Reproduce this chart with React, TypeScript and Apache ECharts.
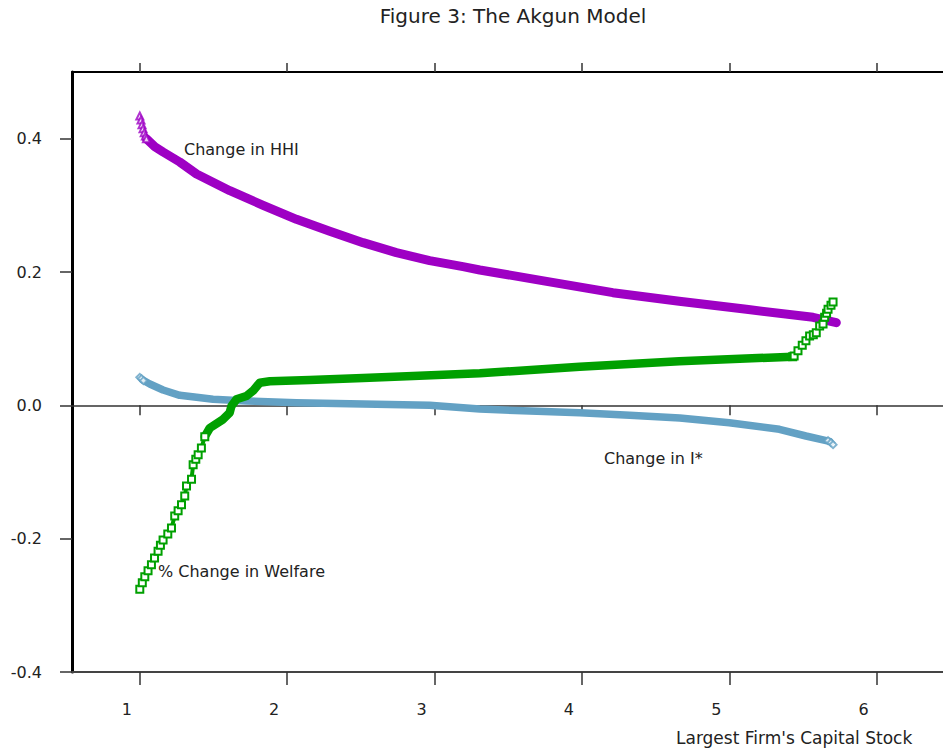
import React, { useEffect, useRef } from "react";
import * as echarts from "echarts";

// ---- texts ----
const chartTitle = "Figure 3: The Akgun Model";
const xAxisTitle = "Largest Firm's Capital Stock";
const hhiLabel = "Change in HHI";
const istarLabel = "Change in I*";
const welfareLabel = "% Change in Welfare";

// ---- axes ----
const xTicks = [1, 2, 3, 4, 5, 6];
const yTicks = [-0.4, -0.2, 0.0, 0.2, 0.4];
const xMin = 0.54;
const xMax = 6.45;
const yMin = -0.4;
const yMax = 0.5;

// ---- Change in HHI ----
const hhiMarkX = [1.0, 1.008, 1.015, 1.022, 1.03, 1.038, 1.045];
const hhiMarkY = [0.434, 0.428, 0.421, 0.415, 0.409, 0.404, 0.4];
const hhiX = [1.045, 1.102, 1.158, 1.271, 1.385, 1.611, 1.837, 2.063, 2.289, 2.515, 2.741, 2.967, 3.193, 3.307, 3.76, 4.21, 4.66, 5.116, 5.568, 5.726];
const hhiY = [0.4, 0.388, 0.38, 0.365, 0.347, 0.322, 0.3, 0.279, 0.261, 0.244, 0.229, 0.217, 0.208, 0.203, 0.186, 0.169, 0.156, 0.144, 0.132, 0.124];

// ---- Change in I* ----
const istarMarkX = [1.0, 1.012, 1.025, 5.67, 5.69, 5.704];
const istarMarkY = [0.042, 0.04, 0.037, -0.053, -0.056, -0.059];
const istarX = [1.02, 1.068, 1.158, 1.271, 1.385, 1.497, 1.724, 2.063, 2.515, 2.967, 3.307, 3.646, 3.985, 4.324, 4.664, 5.0, 5.34, 5.52, 5.68];
const istarY = [0.038, 0.032, 0.023, 0.015, 0.012, 0.009, 0.0065, 0.004, 0.002, 0.0, -0.0055, -0.0085, -0.011, -0.015, -0.019, -0.026, -0.036, -0.046, -0.054];

// ---- % Change in Welfare ----
const welfareLowX = [1.0, 1.017, 1.034, 1.056, 1.079, 1.1, 1.124, 1.14, 1.158, 1.19, 1.215, 1.237, 1.26, 1.283, 1.305, 1.317, 1.351, 1.362, 1.38, 1.396, 1.418, 1.441];
const welfareLowY = [-0.276, -0.266, -0.257, -0.248, -0.239, -0.229, -0.219, -0.21, -0.202, -0.193, -0.184, -0.166, -0.158, -0.149, -0.136, -0.121, -0.111, -0.089, -0.081, -0.074, -0.064, -0.047];
const welfareX = [1.441, 1.475, 1.565, 1.61, 1.622, 1.656, 1.724, 1.769, 1.814, 1.882, 2.153, 2.515, 2.854, 3.307, 3.985, 4.66, 5.43];
const welfareY = [-0.047, -0.034, -0.021, -0.011, -0.001, 0.009, 0.014, 0.022, 0.034, 0.036, 0.038, 0.041, 0.044, 0.048, 0.058, 0.066, 0.073];
const welfareHighX = [5.43, 5.44, 5.466, 5.495, 5.52, 5.545, 5.57, 5.59, 5.613, 5.636, 5.647, 5.66, 5.67, 5.69, 5.704];
const welfareHighY = [0.073, 0.074, 0.082, 0.09, 0.097, 0.104, 0.106, 0.109, 0.119, 0.122, 0.132, 0.138, 0.144, 0.15, 0.155];

const PURPLE = "#9e00c4";
const BLUE = "#63a1c4";
const GREEN = "#00a000";
const FONT = "'DejaVu Sans', sans-serif";

const zip = (xs: number[], ys: number[]) => xs.map((x, i) => [x, ys[i]]);

export default function App() {
  const ref = useRef<HTMLDivElement>(null);

  useEffect(() => {
    document.body.style.margin = "0";
    if (!ref.current) return;
    const chart = echarts.init(ref.current, undefined, { renderer: "svg" });

    const tickStyle = { color: "#333", width: 1.5 };

    const option: any = {
      animation: false,
      backgroundColor: "#ffffff",
      grid: { left: 72, right: 0, top: 72, bottom: 82, containLabel: false },
      xAxis: [
        {
          type: "value",
          min: xMin,
          max: xMax,
          position: "bottom",
          axisLine: { show: true, onZero: true, lineStyle: { color: "#333", width: 1.5 } },
          axisTick: { show: true, customValues: xTicks, length: 10, lineStyle: tickStyle },
          axisLabel: { show: false },
          splitLine: { show: false },
        },
        {
          type: "value",
          min: xMin,
          max: xMax,
          position: "bottom",
          axisLine: { show: true, onZero: false, lineStyle: { color: "#444", width: 2 } },
          axisTick: { show: true, customValues: xTicks, length: 13, lineStyle: tickStyle },
          axisLabel: {
            show: true,
            customValues: xTicks,
            margin: 29,
            fontSize: 16,
            fontFamily: FONT,
            color: "#222",
            padding: [0, 26, 0, 0],
          },
          splitLine: { show: false },
        },
        {
          type: "value",
          min: xMin,
          max: xMax,
          position: "top",
          axisLine: { show: true, onZero: false, lineStyle: { color: "#000", width: 2 } },
          axisTick: { show: true, customValues: xTicks, length: 9, lineStyle: tickStyle },
          axisLabel: { show: false },
          splitLine: { show: false },
        },
      ],
      yAxis: {
        type: "value",
        min: yMin,
        max: yMax,
        position: "left",
        axisLine: { show: true, onZero: false, lineStyle: { color: "#000", width: 3 } },
        axisTick: { show: true, customValues: yTicks, length: 12, lineStyle: tickStyle },
        axisLabel: {
          show: true,
          customValues: yTicks,
          margin: 30,
          fontSize: 16,
          fontFamily: FONT,
          color: "#222",
          formatter: (v: number) => v.toFixed(1),
        },
        splitLine: { show: false },
      },
      series: [
        {
          name: "HHI band",
          type: "line",
          data: zip(hhiX, hhiY),
          symbol: "none",
          smooth: false,
          lineStyle: { color: PURPLE, width: 9, cap: "round", join: "round" },
          z: 3,
        },
        {
          name: "HHI marks",
          type: "scatter",
          data: zip(hhiMarkX, hhiMarkY),
          symbol: "emptyTriangle",
          symbolSize: 7,
          itemStyle: { color: PURPLE, borderWidth: 1.2 },
          z: 3,
        },
        {
          name: "I* band",
          type: "line",
          data: zip(istarX, istarY),
          symbol: "none",
          smooth: false,
          lineStyle: { color: BLUE, width: 7.5, cap: "round", join: "round" },
          z: 4,
        },
        {
          name: "I* marks",
          type: "scatter",
          data: zip(istarMarkX, istarMarkY),
          symbol: "emptyDiamond",
          symbolSize: 7,
          itemStyle: { color: BLUE, borderWidth: 1.2 },
          z: 4,
        },
        {
          name: "Welfare band",
          type: "line",
          data: zip(welfareX, welfareY),
          symbol: "none",
          smooth: false,
          lineStyle: { color: GREEN, width: 8.5, cap: "round", join: "round" },
          z: 5,
        },
        {
          name: "Welfare low",
          type: "line",
          data: zip(welfareLowX, welfareLowY),
          symbol: "emptyRect",
          symbolSize: 7,
          showSymbol: true,
          lineStyle: { color: GREEN, width: 4 },
          itemStyle: { color: GREEN, borderWidth: 1.2 },
          z: 5,
        },
        {
          name: "Welfare high",
          type: "line",
          data: zip(welfareHighX, welfareHighY),
          symbol: "emptyRect",
          symbolSize: 7,
          showSymbol: true,
          lineStyle: { color: GREEN, width: 4 },
          itemStyle: { color: GREEN, borderWidth: 1.2 },
          z: 6,
        },
      ],
      graphic: [
        {
          type: "text",
          x: 513,
          y: 16,
          style: { text: chartTitle, font: `20px ${FONT}`, fill: "#222", align: "center", verticalAlign: "middle", textAlign: "center", textVerticalAlign: "middle" },
        },
        {
          type: "text",
          x: 676,
          y: 738,
          style: { text: xAxisTitle, font: `17px ${FONT}`, fill: "#222", align: "left", verticalAlign: "middle", textAlign: "left", textVerticalAlign: "middle" },
        },
        {
          type: "text",
          x: 184,
          y: 149,
          z: 10,
          style: { text: hhiLabel, font: `16px ${FONT}`, fill: "#222", align: "left", verticalAlign: "middle", textAlign: "left", textVerticalAlign: "middle" },
        },
        {
          type: "text",
          x: 604,
          y: 458,
          z: 10,
          style: { text: istarLabel, font: `16px ${FONT}`, fill: "#222", align: "left", verticalAlign: "middle", textAlign: "left", textVerticalAlign: "middle" },
        },
        {
          type: "text",
          x: 158,
          y: 571,
          z: 10,
          style: { text: welfareLabel, font: `16px ${FONT}`, fill: "#222", align: "left", verticalAlign: "middle", textAlign: "left", textVerticalAlign: "middle" },
        },
      ],
    };

    chart.setOption(option);
    return () => chart.dispose();
  }, []);

  return <div ref={ref} style={{ width: 943, height: 754 }} />;
}
